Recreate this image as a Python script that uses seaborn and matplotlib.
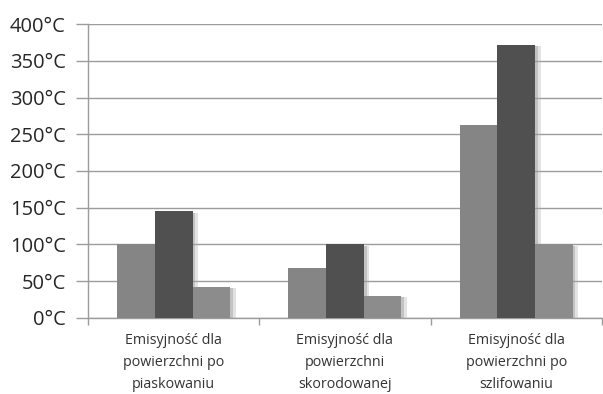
import matplotlib
matplotlib.use("Agg")
import matplotlib.pyplot as plt
import matplotlib.patheffects as pe
from matplotlib.ticker import FixedLocator
import seaborn as sns
import pandas as pd

categories = ["Emisyjność dla\npowierzchni po\npiaskowaniu",
              "Emisyjność dla\npowierzchni\nskorodowanej",
              "Emisyjność dla\npowierzchni po\nszlifowaniu"]
series = ["Seria 1", "Seria 2", "Seria 3"]
values_s1 = [100, 68, 262]
values_s2 = [145, 100, 372]
values_s3 = [42, 30, 100]
y_ticks = [0, 50, 100, 150, 200, 250, 300, 350, 400]
y_tick_labels = [f"{v}°C" for v in y_ticks]

rows = []
for s, vals in zip(series, [values_s1, values_s2, values_s3]):
    for c, v in zip(categories, vals):
        rows.append({"cat": c, "series": s, "val": v})
df = pd.DataFrame(rows)

sns.set_style("white")
plt.rcParams['font.family'] = ['Open Sans', 'DejaVu Sans']

fig = plt.figure(figsize=(6.03, 3.94), dpi=100)
ax = fig.add_axes([0.146, 0.193, 0.852, 0.746])

palette = ["#858585", "#505050", "#8c8c8c"]
sns.barplot(data=df, x="cat", y="val", hue="series", palette=palette,
            width=0.66, gap=0, ax=ax, legend=False, zorder=3, saturation=1)

for p in ax.patches:
    p.set_edgecolor("none")
    p.set_path_effects([pe.SimplePatchShadow(offset=(4, -1), shadow_rgbFace="#b0b0b0", alpha=0.35),
                        pe.SimplePatchShadow(offset=(2, -1), shadow_rgbFace="#8a8a8a", alpha=0.35),
                        pe.Normal()])

ax.set_ylim(0, 400)
ax.set_xlim(-0.5, 2.5)
ax.set_yticks(y_ticks)
ax.set_yticklabels(y_tick_labels, fontsize=14.5, color="#262626")
ax.yaxis.grid(True, color="#9c9c9c", linewidth=1.0, zorder=0)
ax.set_axisbelow(True)

ax.xaxis.set_minor_locator(FixedLocator([-0.5, 0.5, 1.5, 2.5]))
ax.tick_params(axis="x", which="major", length=0, pad=11, labelsize=10.3, labelcolor="#333333")
ax.tick_params(axis="x", which="minor", length=5, width=1, color="#9c9c9c", direction="out", bottom=True)
ax.tick_params(axis="y", which="major", length=9, width=1, color="#9c9c9c", direction="out", left=True, pad=7)
for lab in ax.get_xticklabels():
    lab.set_linespacing(1.62)

ax.set_xlabel("")
ax.set_ylabel("")
for side in ["top", "right"]:
    ax.spines[side].set_visible(False)
ax.spines["left"].set_color("#9c9c9c")
ax.spines["bottom"].set_color("#9c9c9c")
ax.spines["left"].set_linewidth(1.0)
ax.spines["bottom"].set_linewidth(1.0)

fig.savefig("out.png", dpi=100)
